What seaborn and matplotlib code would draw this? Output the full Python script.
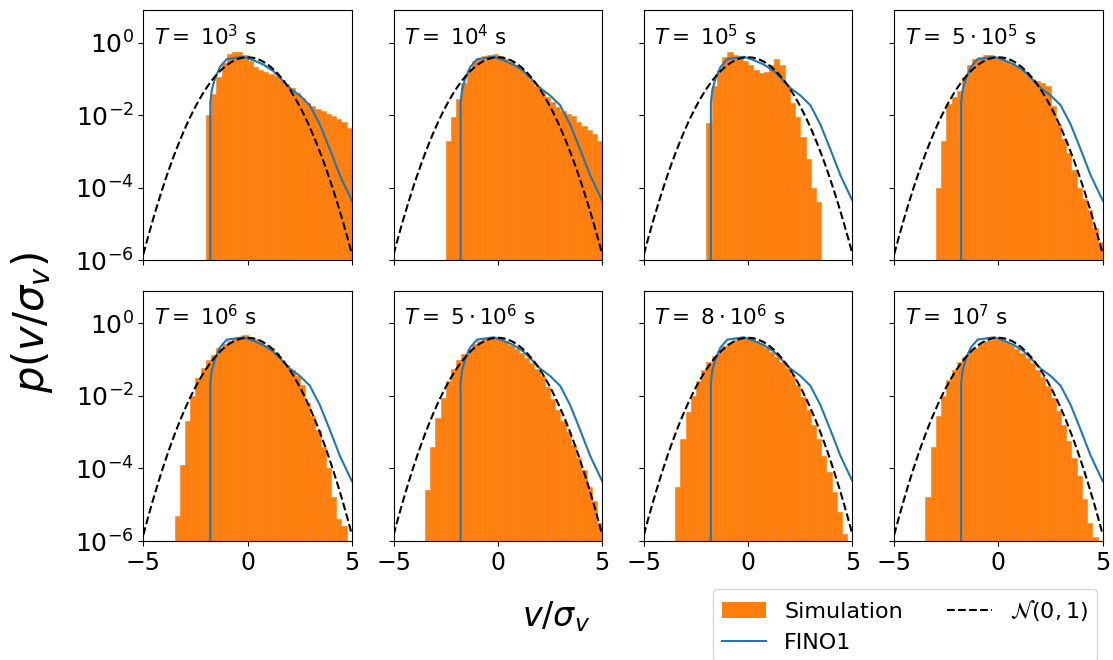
import numpy as np
import pandas as pd
import matplotlib
matplotlib.use("Agg")
import matplotlib.pyplot as plt
import seaborn as sns
from matplotlib.patches import Patch
from matplotlib.lines import Line2D
from matplotlib.ticker import FixedLocator, NullLocator

NA = np.nan

# ---- data ----
panel_titles = [r"$T=$ $10^{3}$ s", r"$T=$ $10^{4}$ s", r"$T=$ $10^{5}$ s",
                r"$T=$ $5\cdot10^{5}$ s", r"$T=$ $10^{6}$ s", r"$T=$ $5\cdot10^{6}$ s",
                r"$T=$ $8\cdot10^{6}$ s", r"$T=$ $10^{7}$ s"]

bin_edges = np.linspace(-5, 5, 41)

# log10 of simulated density per bin (NaN = empty bin)
logp_1e3 = [NA] * 12 + [-2.0, -1.4, -0.95, -0.55, -0.3, -0.26, -0.25, -0.33, -0.5, -0.66,
                        -0.75, -0.8, -0.86, -0.92, -1.02, -1.13, -1.25, -1.38, -1.53, -1.65,
                        -1.74, -1.82, -1.88, -1.96, -2.03, -2.1, -2.18, -2.35]
logp_1e4 = [NA] * 10 + [-2.7, -2.05, -1.55, -1.1, -0.72, -0.5, -0.42, -0.37, -0.33, -0.3,
                        -0.37, -0.45, -0.52, -0.62, -0.74, -0.87, -1.02, -1.18, -1.35, -1.5,
                        -1.64, -1.77, -1.88, -1.96, -2.03, -2.17, -2.3, -2.4, -2.52, -2.7]
logp_1e5 = [NA] * 12 + [-2.2, -1.2, -0.75, -0.38, -0.24, -0.34, -0.45, -0.5, -0.62, -0.76,
                        -0.83, -0.8, -0.62, -0.45, -0.6, -1.2, -1.65, -2.05, -2.6, -3.2,
                        -4.0, -4.4] + [NA] * 6
logp_5e5 = [NA] * 8 + [-4.0, -2.7, -1.7, -1.5, -1.32, -0.95, -0.62, -0.46, -0.38, -0.35,
                       -0.35, -0.38, -0.43, -0.5, -0.58, -0.65, -0.76, -0.88, -1.0, -1.06,
                       -1.1, -1.18, -1.75, -2.25, -2.65, -3.05, -3.5, -4.0, -4.3, -4.6,
                       -5.1, -5.5]
logp_1e6 = [NA] * 6 + [-5.3, -3.9, -2.7, -2.0, -1.5, -1.22, -1.0, -0.86, -0.68, -0.56,
                       -0.48, -0.42, -0.37, -0.33, -0.37, -0.44, -0.52, -0.6, -0.68, -0.82,
                       -1.0, -1.16, -1.3, -1.45, -1.7, -2.2, -2.55, -2.95, -3.4, -4.0,
                       -4.8, -5.4, -5.6] + [NA]
logp_5e6 = [NA] * 6 + [-4.6, -3.4, -2.6, -2.05, -1.6, -1.25, -1.02, -0.84, -0.7, -0.58,
                       -0.5, -0.44, -0.41, -0.4, -0.43, -0.5, -0.6, -0.7, -0.82, -0.95,
                       -1.1, -1.26, -1.45, -1.75, -2.08, -2.4, -2.68, -3.0, -3.35, -3.7,
                       -4.05, -4.5, -4.9, -5.5]
logp_8e6 = [NA] * 6 + [-4.5, -3.2, -2.45, -2.0, -1.6, -1.28, -1.07, -0.9, -0.75, -0.63,
                       -0.53, -0.46, -0.42, -0.4, -0.43, -0.5, -0.58, -0.68, -0.8, -0.92,
                       -1.06, -1.22, -1.42, -1.7, -2.02, -2.4, -2.8, -3.2, -3.65, -4.1,
                       -4.65, -5.2, -5.8] + [NA]
logp_1e7 = [NA] * 6 + [-4.8, -3.4, -2.55, -2.0, -1.55, -1.28, -1.08, -0.93, -0.8, -0.68,
                       -0.57, -0.49, -0.45, -0.43, -0.45, -0.52, -0.6, -0.7, -0.82, -0.95,
                       -1.1, -1.28, -1.48, -1.72, -2.05, -2.42, -2.8, -3.25, -3.7, -4.2,
                       -4.85, -5.5, -5.9] + [NA]

sim_logp = [logp_1e3, logp_1e4, logp_1e5, logp_5e5, logp_1e6, logp_5e6, logp_8e6, logp_1e7]

# FINO1 measured distribution (same in every panel)
fino_x = [-1.79, -1.79, -1.72, -1.56, -1.32, -1.0, -0.52, -0.2, 0.27, 0.75, 1.23, 1.71,
          2.03, 2.5, 2.98, 3.46, 3.95, 4.42, 4.74, 5.0]
fino_logp = [-6.0, -1.65, -1.3, -0.98, -0.66, -0.45, -0.41, -0.385, -0.48, -0.6, -0.78, -1.06,
             -1.25, -1.45, -1.72, -2.25, -2.95, -3.65, -4.04, -4.35]

# ---- plotting ----
ORANGE = "#ff7f0e"
BLUE = "#1f77b4"

fig, axes = plt.subplots(2, 4, figsize=(11.13, 6.6), dpi=100, sharex=True, sharey=True)
fig.subplots_adjust(left=0.1288, right=0.9908, top=0.9848, bottom=0.1803,
                    wspace=0.2, hspace=0.12)

centers = 0.5 * (bin_edges[:-1] + bin_edges[1:])
xg = np.linspace(-5, 5, 400)
normal_pdf = np.exp(-0.5 * xg ** 2) / np.sqrt(2 * np.pi)
fino_df = pd.DataFrame({"v": fino_x, "p": 10.0 ** np.asarray(fino_logp)})
norm_df = pd.DataFrame({"v": xg, "p": normal_pdf})

for ax, title, lp in zip(axes.flat, panel_titles, sim_logp):
    lp = np.asarray(lp, dtype=float)
    hist_df = pd.DataFrame({"v": centers,
                            "w": np.where(np.isnan(lp), 0.0, 10.0 ** lp)})
    sns.histplot(data=hist_df, x="v", weights="w", bins=list(bin_edges), element="bars",
                 fill=True, color=ORANGE, alpha=1.0, edgecolor=ORANGE, linewidth=0.4,
                 ax=ax)
    sns.lineplot(data=fino_df, x="v", y="p", color=BLUE, lw=1.5,
                 estimator=None, sort=False, ax=ax)
    sns.lineplot(data=norm_df, x="v", y="p", color="black", lw=1.5, linestyle="--",
                 estimator=None, ax=ax)
    ax.set_yscale("log")
    ax.set_ylim(1e-6, 8)
    ax.set_xlim(-5, 5)
    ax.set_ylabel("")
    ax.set_xlabel("")
    ax.yaxis.set_major_locator(FixedLocator([1e-6, 1e-4, 1e-2, 1e0]))
    ax.yaxis.set_minor_locator(NullLocator())
    ax.xaxis.set_major_locator(FixedLocator([-5, 0, 5]))
    ax.tick_params(axis="x", labelsize=17)
    ax.tick_params(axis="y", labelsize=18)
    ax.text(0.05, 0.945, title, transform=ax.transAxes, ha="left", va="top", fontsize=15.5)

fig.text(0.5, 1 - 617 / 660, r"$v/\sigma_v$", ha="center", va="center", fontsize=24)
fig.text(0.029, 1 - 323 / 660, r"$p(v/\sigma_v)$", ha="center", va="center",
         rotation=90, fontsize=30)

handles = [Patch(facecolor=ORANGE, label="Simulation"),
           Line2D([], [], color=BLUE, lw=1.5, label="FINO1"),
           Line2D([], [], color="black", lw=1.5, ls="--", label=r"$\mathcal{N}(0,1)$")]
fig.legend(handles=handles, ncol=2, loc="upper left", fontsize=16,
           bbox_to_anchor=(713 / 1113, 1 - 589 / 660), borderaxespad=0)

fig.savefig("out.png", dpi=100)
